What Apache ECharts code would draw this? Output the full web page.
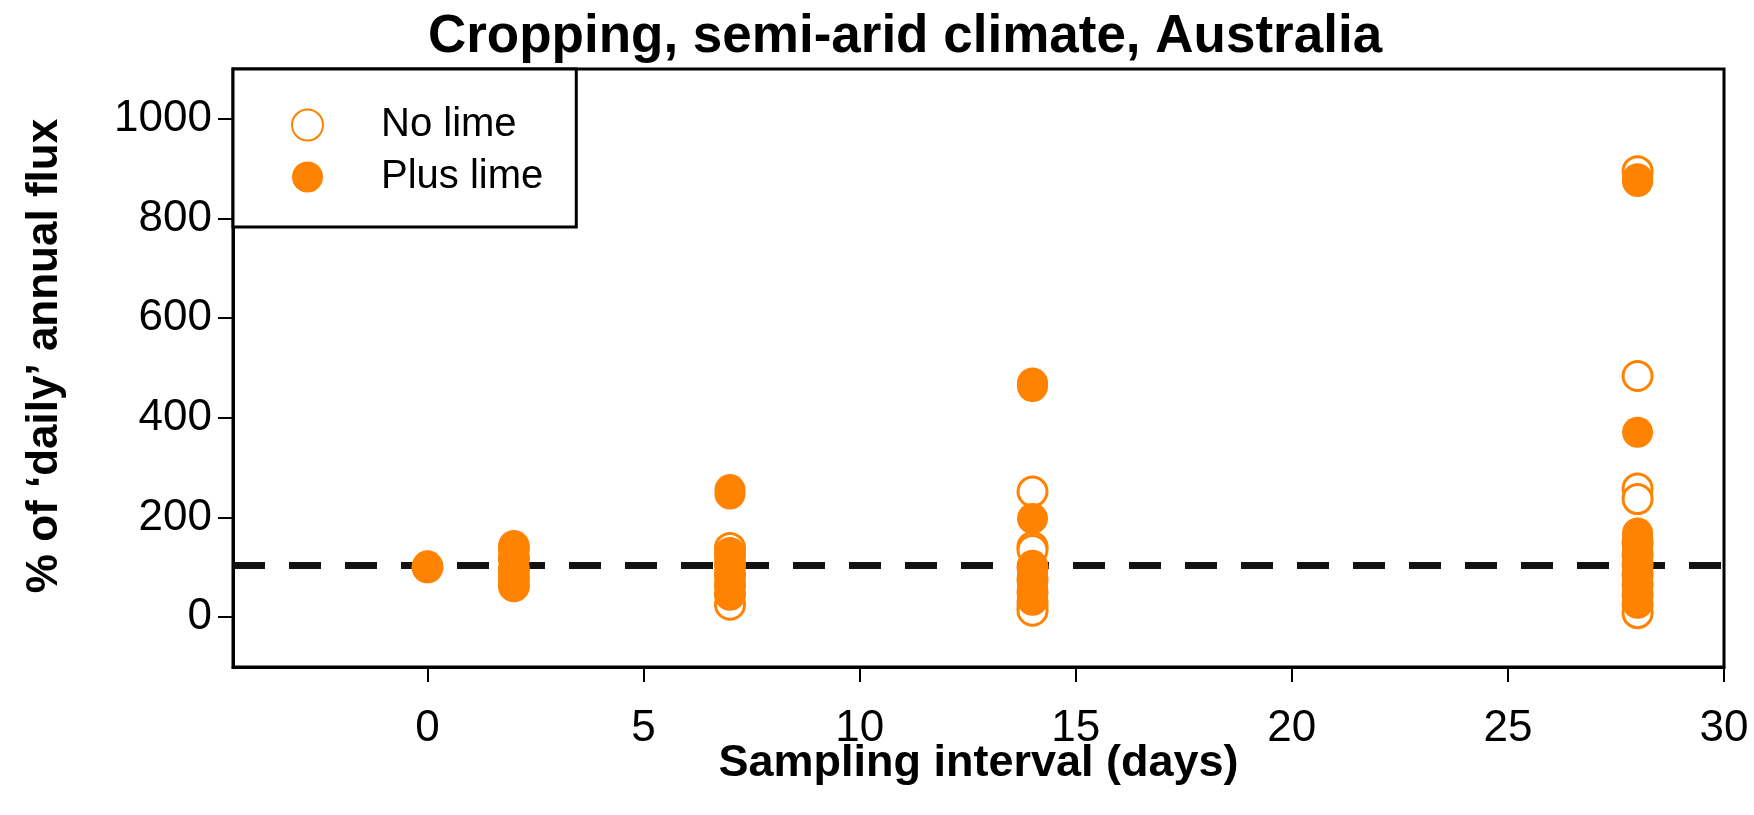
<!DOCTYPE html>
<html>
<head>
<meta charset="utf-8">
<script src="https://cdn.jsdelivr.net/npm/echarts@6/dist/echarts.min.js"></script>
<style>
html,body{margin:0;padding:0;background:#fff;}
#chart{width:1754px;height:815px;}
</style>
</head>
<body>
<div id="chart"></div>
<script>
// ---- data ----
const intervals = [0, 2, 7, 14, 28];
const noLime = [
  [100],
  [140, 118, 95, 78, 62],
  [139, 125, 105, 85, 65, 45, 25],
  [252, 141, 135, 100, 75, 50, 30, 20, 13],
  [895, 484, 258, 237, 150, 125, 105, 85, 65, 45, 25, 8]
];
const plusLime = [
  [103],
  [144, 132, 120, 112, 98, 85, 74, 66],
  [256, 247, 130, 115, 100, 88, 75, 62, 50, 44],
  [470, 463, 198, 104, 92, 80, 68, 57, 45, 34],
  [880, 874, 371, 169, 160, 140, 118, 100, 85, 70, 55, 40, 28]
];
const referenceLine = 105;
const xTicks = [0, 5, 10, 15, 20, 25, 30];
const yTicks = [0, 200, 400, 600, 800, 1000];
const seriesNames = ['No lime', 'Plus lime'];
const titleText = 'Cropping, semi-arid climate, Australia';
const xName = 'Sampling interval (days)';
const yName = '% of \u2018daily\u2019 annual flux';

function toPairs(groups) {
  const out = [];
  groups.forEach((vals, i) => vals.forEach(v => out.push([intervals[i], v])));
  return out;
}

const ORANGE = '#ff8200';
const FONT = '"Liberation Sans", Arial, sans-serif';

const chart = echarts.init(document.getElementById('chart'), null, {renderer: 'canvas'});
chart.setOption({
  animation: false,
  backgroundColor: '#fff',
  title: {
    text: titleText,
    left: 900,
    top: 6,
    textAlign: 'center',
    textStyle: {fontFamily: FONT, fontWeight: 'bold', fontSize: 53, color: '#000'}
  },
  grid: {
    left: 233, top: 69, right: 30, bottom: 148,
    show: true, borderColor: '#000', borderWidth: 3, backgroundColor: 'transparent'
  },
  legend: {
    orient: 'vertical',
    left: 233, top: 69,
    padding: [33, 33, 27, 58],
    itemWidth: 31, itemHeight: 31, itemGap: 6,
    backgroundColor: '#fff', borderColor: '#000', borderWidth: 3,
    selectedMode: false,
    textStyle: {fontFamily: FONT, fontSize: 40, color: '#000', lineHeight: 46, padding: [0, 0, 0, 53]},
    data: seriesNames
  },
  xAxis: {
    type: 'value',
    min: -4.5, max: 30,
    name: xName,
    nameLocation: 'middle',
    nameGap: 74,
    nameMoveOverlap: false,
    nameTextStyle: {fontFamily: FONT, fontWeight: 'bold', fontSize: 45, color: '#000'},
    axisLine: {show: true, onZero: false, lineStyle: {color: '#000', width: 3}},
    axisTick: {show: true, length: 15, lineStyle: {color: '#000', width: 2}, customValues: xTicks},
    axisLabel: {fontFamily: FONT, fontSize: 44, color: '#000', margin: 40, customValues: xTicks,
      formatter: v => String(v)},
    splitLine: {show: false}
  },
  yAxis: {
    type: 'value',
    min: -100, max: 1100,
    name: yName,
    nameLocation: 'middle',
    nameGap: 166,
    nameTextStyle: {fontFamily: FONT, fontWeight: 'bold', fontSize: 44, color: '#000', padding: [0, 0, 0, 24]},
    axisLine: {show: true, onZero: false, lineStyle: {color: '#000', width: 3}},
    axisTick: {show: true, length: 15, lineStyle: {color: '#000', width: 2}, customValues: yTicks},
    axisLabel: {fontFamily: FONT, fontSize: 44, color: '#000', margin: 21, customValues: yTicks,
      formatter: v => String(v)},
    splitLine: {show: false}
  },
  series: [
    {
      name: seriesNames[0],
      type: 'scatter',
      symbol: 'circle',
      symbolSize: 29,
      itemStyle: {color: '#fff', borderColor: ORANGE, borderWidth: 3, opacity: 1},
      data: toPairs(noLime),
      markLine: {
        silent: true,
        symbol: ['none', 'none'],
        label: {show: false},
        lineStyle: {color: '#111', width: 7, type: [32, 24]},
        data: [{yAxis: referenceLine}],
        z: 1
      },
      z: 2
    },
    {
      name: seriesNames[1],
      type: 'scatter',
      symbol: 'circle',
      symbolSize: 31,
      itemStyle: {color: ORANGE, opacity: 1},
      data: toPairs(plusLime),
      z: 3
    }
  ]
});
</script>
</body>
</html>
